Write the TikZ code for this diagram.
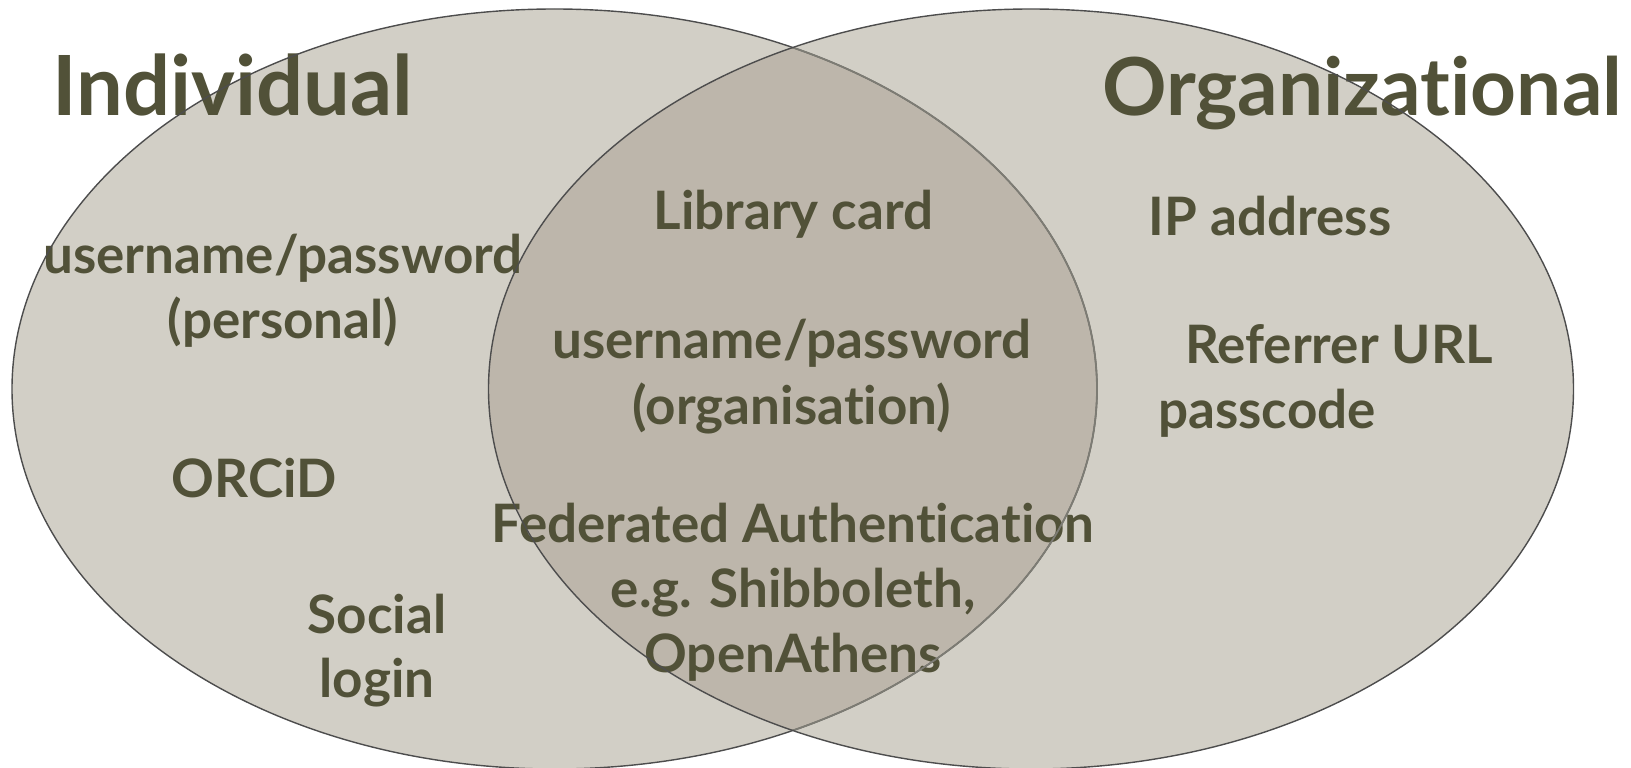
\documentclass[tikz,border=0pt]{standalone}
\usepackage{fontspec}
\setmainfont{Lato}[Ligatures=NoCommon]
\definecolor{txt}{RGB}{81,81,56}
\definecolor{lightfill}{RGB}{210,207,198}
\definecolor{midfill}{RGB}{189,182,171}
\definecolor{outerline}{RGB}{77,77,77}
\definecolor{innerline}{RGB}{125,124,116}
\begin{document}
\begin{tikzpicture}[x=1pt,y=-1pt,
  lbl/.style={font=\fontsize{53}{65}\selectfont\bfseries, text=txt, inner sep=0pt, anchor=base},
  lblw/.style={lbl, anchor=base west},
  ttl/.style={text=txt, inner sep=0pt, anchor=base west},
  ell/.style={x radius=542.5, y radius=380},
]
\useasboundingbox (0,0) rectangle (1631,768);
\coordinate (cL) at (554.5,389);
\coordinate (cR) at (1031,389);
% fills
\fill[lightfill] (cL) ellipse [ell];
\fill[lightfill] (cR) ellipse [ell];
\begin{scope}
  \clip (cL) ellipse [ell];
  \fill[midfill] (cR) ellipse [ell];
\end{scope}
% titles
\node[ttl, font=\fontsize{83}{90}\selectfont\bfseries] (indiv) at (52,115) {Individual};
\node[ttl, font=\fontsize{80}{90}\selectfont\bfseries] (organ) at (1102,115) {Organizational};
% labels
\node[lbl] (lib) at (793.5,229) {Library card};
\node[lbl] (ip) at (1270,235) {IP address};
\node[lbl] (pers1) at (283,273) {username/password};
\node[lbl] (pers2) at (283,338) {(personal)};
\node[lbl] (org1) at (792,358) {username/password};
\node[lbl] (org2) at (792,424) {(organisation)};
\node[lblw] (ref) at (1185,363) {Referrer URL};
\node[lblw] (pass) at (1158,428) {passcode};
\node[lbl] (orcid) at (254,497) {ORCiD};
\node[lbl] (fed1) at (793,542) {Federated Authentication};
\node[lbl] (fed2) at (793,607) {e.g. Shibboleth,};
\node[lbl] (fed3) at (793,672) {OpenAthens};
\node[lbl] (soc1) at (377,633) {Social};
\node[lbl] (soc2) at (377,697) {login};
% outlines
\draw[outerline, line width=1.4] (cL) ellipse [ell];
\begin{scope}
  \clip (cR) ellipse [ell];
  \draw[innerline, line width=1.8] (cL) ellipse [ell];
\end{scope}
\draw[outerline, line width=1.4] (cR) ellipse [ell];
\end{tikzpicture}
\end{document}
